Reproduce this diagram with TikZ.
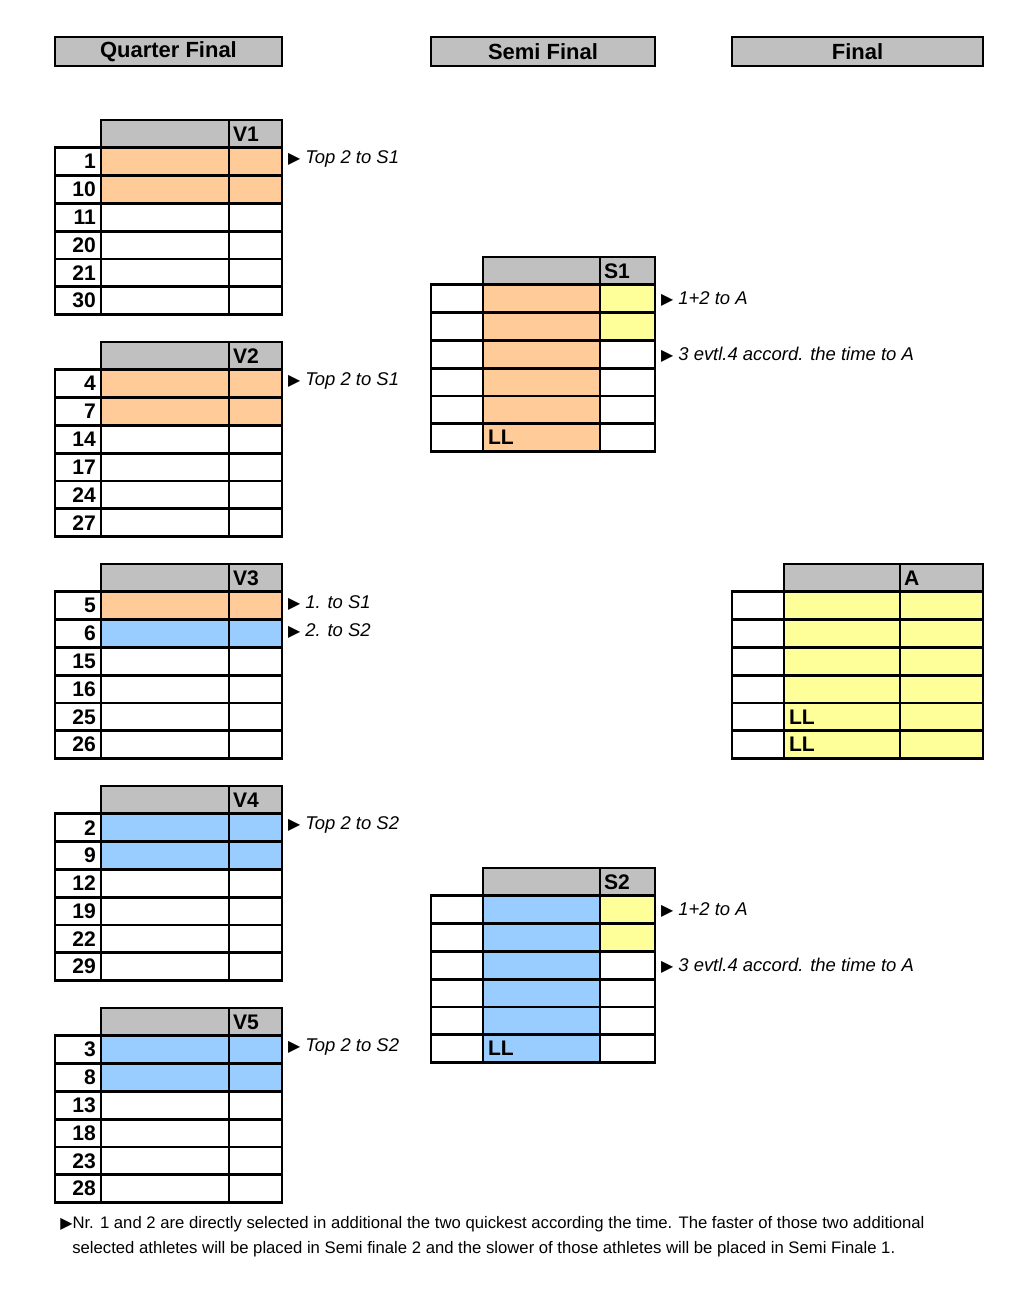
\documentclass[tikz,border=0pt]{standalone}
\usepackage{fontspec}
\setmainfont{Liberation Sans}
\newfontfamily\symfont{DejaVu Sans}
\usetikzlibrary{calc}
\definecolor{hdgray}{RGB}{192,192,192}
\definecolor{orng}{RGB}{255,204,153}
\definecolor{blu}{RGB}{153,204,255}
\definecolor{yell}{RGB}{255,255,153}
\tikzset{
  grid line/.style={line width=1.6pt, black},
  stage/.style={draw, line width=1.6pt, fill=hdgray, font=\bfseries\fontsize{12.5}{14}\selectfont, minimum height=0.58cm, inner sep=0pt},
  numtext/.style={font=\bfseries\fontsize{12}{14}\selectfont, anchor=east, inner sep=1pt},
  headtext/.style={font=\bfseries\fontsize{12}{14}\selectfont, anchor=west, inner sep=1pt},
  notetext/.style={font=\itshape\fontsize{10.5}{12}\selectfont, anchor=west, inner sep=1pt},
  foottext/.style={font=\fontsize{9.5}{11}\selectfont, anchor=west, inner sep=0pt},
}
\def\rowh{27.8}
\def\tri{{\symfont\fontsize{9}{10}\selectfont ▶}}
\def\tablegrid(#1:#2:#3:#4:#5){%
  \draw[grid line] (#2,#5) rectangle (#4,{#5+\rowh});
  \foreach \row in {1,...,6} {\draw[grid line] (#1,{#5+\row*\rowh}) rectangle (#4,{#5+(\row+1)*\rowh});}
  \draw[grid line] (#2,#5) -- (#2,{#5+7*\rowh});
  \draw[grid line] (#3,#5) -- (#3,{#5+7*\rowh});
}

\begin{document}
\begin{tikzpicture}[x=0.02cm,y=-0.02cm]
			%%%%% START %%%%%
			\useasboundingbox (0,0) rectangle (1024,1309);
			
			\node[stage, minimum width=4.54cm] (qf) at (168.5,51.5) {Quarter Final};
			\node[stage, minimum width=4.48cm] (sf) at (543,51.5) {Semi Final};
			\node[stage, minimum width=5.02cm] (fin) at (857.5,51.5) {Final};
			
			% quarter final heats
			\foreach \v/\y/\ca/\cb/\nums in {V1/120/orng/orng/{1,10,11,20,21,30},
			    V2/342/orng/orng/{4,7,14,17,24,27}, V3/564/orng/blu/{5,6,15,16,25,26},
			    V4/786/blu/blu/{2,9,12,19,22,29}, V5/1008/blu/blu/{3,8,13,18,23,28}} {
				\fill[hdgray] (101,\y) rectangle (282,{\y+\rowh});
				\fill[\ca] (101,{\y+\rowh}) rectangle (282,{\y+2*\rowh});
				\fill[\cb] (101,{\y+2*\rowh}) rectangle (282,{\y+3*\rowh});
				\tablegrid(55:101:229:282:\y)
				\node[headtext] (\v-h) at (231,{\y+0.5*\rowh}) {\v};
				\foreach \n [count=\i] in \nums
					\node[numtext] (\v-\i) at (98,{\y+(\i+0.5)*\rowh}) {\n};
			}
			
			\node[notetext] (v1-note) at (286,{120+1.4*\rowh}) {\tri\ Top 2 to S1};
			\node[notetext] (v2-note) at (286,{342+1.4*\rowh}) {\tri\ Top 2 to S1};
			\node[notetext] (v3-note1) at (286,{564+1.4*\rowh}) {\tri\ 1. to S1};
			\node[notetext] (v3-note2) at (286,{564+2.4*\rowh}) {\tri\ 2. to S2};
			\node[notetext] (v4-note) at (286,{786+1.4*\rowh}) {\tri\ Top 2 to S2};
			\node[notetext] (v5-note) at (286,{1008+1.4*\rowh}) {\tri\ Top 2 to S2};
			
			% semi finals
			\foreach \s/\y/\c in {S1/257/orng, S2/868/blu} {
				\fill[hdgray] (483,\y) rectangle (655,{\y+\rowh});
				\fill[\c] (483,{\y+\rowh}) rectangle (600,{\y+7*\rowh});
				\fill[yell] (600,{\y+\rowh}) rectangle (655,{\y+3*\rowh});
				\tablegrid(431:483:600:655:\y)
				\node[headtext] (\s-h) at (602,{\y+0.5*\rowh}) {\s};
				\node[headtext] (\s-ll) at (486,{\y+6.5*\rowh}) {LL};
				\node[notetext] (\s-a) at (659,{\y+1.5*\rowh}) {\tri\ 1+2 to A};
				\node[notetext] (\s-b) at (659,{\y+3.5*\rowh}) {\tri\ 3 evtl.4 accord. the time to A};
			}
			
			% final
			\fill[hdgray] (784,564) rectangle (983,{564+\rowh});
			\fill[yell] (784,{564+\rowh}) rectangle (983,{564+7*\rowh});
			\tablegrid(732:784:900:983:564)
			\node[headtext] (A-h) at (902,{564+0.5*\rowh}) {A};
			\node[headtext] (A-ll1) at (787,{564+5.5*\rowh}) {LL};
			\node[headtext] (A-ll2) at (787,{564+6.5*\rowh}) {LL};
			
			\node[foottext] (foot1) at (60,1224) {\tri Nr. 1 and 2 are directly selected in additional the two quickest according the time. The faster of those two additional};
			\node[foottext] (foot2) at (72,1249) {selected athletes will be placed in Semi finale 2 and the slower of those athletes will be placed in Semi Finale 1.};
			
			%%%%% END %%%%%
\end{tikzpicture}
\end{document}
